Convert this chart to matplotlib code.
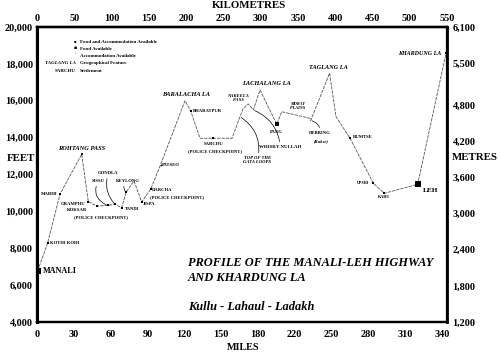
import matplotlib
matplotlib.use("Agg")
import matplotlib.pyplot as plt

# ---------------- data ----------------
route_km = [1, 14.4, 30.9, 60.0, 68.8, 80.1, 94.6, 104.6, 113.6, 119.4, 130.1,
            140.4, 152.5, 165.7, 198.5, 206.2, 218.7, 236.5, 261.6, 272.3, 276.7,
            283.5, 290.2, 299.2, 321.6, 328.3, 366.2, 367.2, 392.5, 401.1, 419.9,
            451.2, 465.9, 510.7, 548.7]
route_ft = [6780, 8300, 10940, 13100, 10525, 10290, 10320, 10385, 10200, 11025, 11650,
            10510, 11200, 12520, 16000, 15445, 13965, 13965, 13965, 15135, 15590,
            15825, 15500, 16585, 14725, 15405, 15050, 14930, 17500, 15135, 13965,
            11525, 10980, 11470, 18575]

# named places: name, km, feet, marker kind
place_names = ["MANALI", "KOTHI KOHI", "MARHI", "ROHTANG PASS", "GRAMPHU", "KOKSAR",
               "SISSU", "GONDLA", "TANDI", "KEYLONG", "JISPA", "DARCHA", "PATSEO",
               "BARALACHA LA", "BHARATPUR", "SARCHU", "TOP OF THE\nGATA LOOPS",
               "NAKEELA\nPASS", "WHISKY NULLAH", "LACHALANG LA", "PANG", "MORAY\nPLAINS",
               "DEBRING", "TAGLANG LA", "RUMTSE", "UPSHI", "KARU", "LEH", "KHARDUNG LA"]
place_km = [1, 14.4, 30.9, 60.0, 68.8, 80.1, 94.6, 104.6, 113.6, 119.4, 140.4, 152.5,
            165.7, 198.5, 206.2, 236.5, 272.3, 283.5, 290.2, 299.2, 321.6, 328.3,
            367.2, 392.5, 419.9, 451.2, 465.9, 510.7, 548.7]
place_ft = [6780, 8300, 10940, 13100, 10525, 10290, 10320, 10385, 10200, 11025, 10510,
            11200, 12520, 16000, 15445, 13965, 15135, 15825, 15500, 16585, 14725, 15405,
            14930, 17500, 13965, 11525, 10980, 11470, 18575]
place_kind = ["big", "small", "small", "small", "small", "small", "small", "small",
              "small", "small", "small", "small", "dot", "none", "small", "small",
              "none", "none", "none", "none", "mid", "none", "none", "none", "small",
              "small", "small", "big", "small"]

km_ticks = [0, 50, 100, 150, 200, 250, 300, 350, 400, 450, 500, 550]
mile_labels = ["0", "30", "60", "90", "120", "150", "180", "220", "250", "280", "310", "340"]
ft_ticks = [4000, 6000, 8000, 10000, 12000, 14000, 16000, 18000, 20000]
m_ticks = [1200, 1800, 2400, 3000, 3600, 4200, 4800, 5500, 6100]

# ---------------- style ----------------
SERIF = "Liberation Serif"
plt.rcParams["font.family"] = [SERIF, "DejaVu Serif"]

W, H = 500, 355
fig = plt.figure(figsize=(W / 100, H / 100), dpi=100)
ax = fig.add_axes([37 / W, 33 / H, 410 / W, 295 / H])
ax.set_xlim(0, 550)
ax.set_ylim(4000, 20000)

for s in ax.spines.values():
    s.set_linewidth(1.6)
    s.set_color("black")
ax.spines["left"].set_linewidth(2.2)

tick_font = dict(fontsize=7.4, fontweight="bold", family=SERIF)
ax.set_yticks(ft_ticks, labels=[f"{v:,}" for v in ft_ticks], **tick_font)
mile_step = 49.4
ax.set_xticks([i * mile_step for i in range(len(mile_labels))], labels=mile_labels, **tick_font)
ax.tick_params(axis="both", length=0, pad=3)
ax.tick_params(axis="x", pad=6)

top = ax.secondary_xaxis("top")
top.set_xticks(km_ticks, labels=[str(v) for v in km_ticks], **tick_font)
top.tick_params(length=0, pad=3)
top.spines["top"].set_linewidth(1.6)

ax2 = ax.twinx()
ax2.set_ylim(1200, 6100)
ax2.set_yticks(m_ticks, labels=[f"{v:,}" for v in m_ticks], **tick_font)
ax2.tick_params(length=0, pad=4)
for s in ax2.spines.values():
    s.set_linewidth(1.6)
ax2.spines["right"].set_linewidth(2.0)
ax2.set_zorder(0)
ax.set_zorder(1)
ax.patch.set_visible(False)

def ftext(x, y, s, **kw):
    fig.text(x / W, 1 - y / H, s, **kw)

ftext(249, 6, "KILOMETRES", ha="center", va="center", fontsize=7.8, fontweight="bold")
ftext(243, 348, "MILES", ha="center", va="center", fontsize=7.3, fontweight="bold")
ftext(21, 158, "FEET", ha="center", va="center", fontsize=7.8, fontweight="bold")
ftext(475, 157, "METRES", ha="center", va="center", fontsize=7.8, fontweight="bold")

ttl = dict(ha="left", va="center", fontsize=8.9, fontweight="bold", style="italic")
ftext(188, 263, "PROFILE OF THE MANALI-LEH HIGHWAY", **ttl)
ftext(188, 278, "AND KHARDUNG LA", **ttl)
ftext(188, 307, "Kullu - Lahaul - Ladakh", **ttl)

# legend
lg = dict(fontsize=3.6, fontweight="bold", va="center")
ftext(75, 42, "\u25a0", ha="center", fontsize=3.0)
ftext(80, 42, "Food and Accommodation Available", ha="left", **lg)
ftext(75, 49, "\u25a0", ha="center", fontsize=3.8)
ftext(80, 49, "Food Available", ha="left", **lg)
ftext(75, 56, "\u00b7", ha="center", fontsize=4)
ftext(80, 56, "Accommodation Available", ha="left", **lg)
ftext(76, 63, "TAGLANG LA", ha="right", fontsize=3.6, fontweight="bold", style="italic", va="center")
ftext(80, 63, "Geographical Feature", ha="left", **lg)
ftext(76, 70.5, "SARCHU", ha="right", **lg)
ftext(80, 70.5, "Settlement", ha="left", **lg)

# route line
ax.plot(route_km, route_ft, color="#555555", lw=0.6, ls=(0, (4, 1.2)), zorder=2)

msize = {"big": 4.2, "mid": 3.2, "small": 1.8, "dot": 1.2, "none": 0}
for n, x, y, k in zip(place_names, place_km, place_ft, place_kind):
    if k != "none":
        ax.plot([x], [y], marker="s" if k != "dot" else "o", ms=msize[k],
                color="black", mew=0, zorder=3)

# label offsets (pixels), alignment, style
labels = {
    "MANALI": (5, 0, "left", "normal", 5.9, None),
    "KOTHI KOHI": (2.5, 0, "left", "normal", 3.3, None),
    "MARHI": (-3, 0, "right", "normal", 3.4, None),
    "ROHTANG PASS": (0, 6, "center", "italic", 4.6, None),
    "GRAMPHU": (-3, -2.5, "right", "normal", 3.3, None),
    "KOKSAR": (-20, -3.5, "center", "normal", 3.3, None),
    "SISSU": (-9.5, 24.5, "center", "normal", 3.3, 0.5),
    "GONDLA": (-6.5, 31, "center", "normal", 3.3, 0.3),
    "TANDI": (3.5, -1.5, "left", "normal", 3.3, None),
    "KEYLONG": (1.5, 11.5, "center", "normal", 3.3, 0.5),
    "JISPA": (1.5, -2, "left", "normal", 3.3, None),
    "DARCHA": (1.5, -1, "left", "normal", 3.3, None),
    "PATSEO": (1.5, 0, "left", "normal", 3.3, None),
    "BARALACHA LA": (1, 6.5, "center", "italic", 4.6, None),
    "BHARATPUR": (2.5, 0, "left", "normal", 3.3, None),
    "SARCHU": (0, -6, "center", "normal", 3.3, None),
    "TOP OF THE\nGATA LOOPS": (17.5, -43.5, "center", "italic", 3.3, 0.35),
    "NAKEELA\nPASS": (-10, 6, "center", "italic", 3.3, None),
    "WHISKY NULLAH": (27, -37, "center", "normal", 3.5, 0.3),
    "LACHALANG LA": (6, 6, "center", "italic", 4.6, None),
    "PANG": (0, -8, "center", "normal", 3.3, None),
    "MORAY\nPLAINS": (16, 5.5, "center", "italic", 3.1, None),
    "DEBRING": (9.5, -12.5, "center", "normal", 3.3, 0.4),
    "TAGLANG LA": (-1, 5.5, "center", "italic", 4.5, None),
    "RUMTSE": (3, 1, "left", "normal", 3.3, None),
    "UPSHI": (-4, 0.5, "right", "normal", 3.0, None),
    "KARU": (0, -4, "center", "normal", 3.1, None),
    "LEH": (5, -6, "left", "normal", 5.2, None),
    "KHARDUNG LA": (-5, 0, "right", "italic", 4.3, None),
}
for n, x, y in zip(place_names, place_km, place_ft):
    dx, dy, ha, st, fs, rad = labels[n]
    kw = dict(xy=(x, y), xytext=(dx, dy), textcoords="offset pixels", ha=ha,
              va="center", fontsize=fs, fontweight="bold", style=st,
              linespacing=1.0, zorder=4)
    if rad is not None:
        kw["arrowprops"] = dict(arrowstyle="-", lw=0.5, color="black",
                                connectionstyle=f"arc3,rad={rad}", shrinkA=0.5, shrinkB=1)
    ax.annotate(n, **kw)

# sub-labels
extra = [("KOKSAR", "(POLICE CHECKPOINT)", 4, -11.5, "center"),
         ("DARCHA", "(POLICE CHECKPOINT)", -0.5, -8, "left"),
         ("SARCHU", "(POLICE CHECKPOINT)", 1.5, -13, "center"),
         ("DEBRING", "(Rukse)", 10.5, -20.5, "center")]
for n, s, dx, dy, ha in extra:
    i = place_names.index(n)
    ax.annotate(s, xy=(place_km[i], place_ft[i]), xytext=(dx, dy), textcoords="offset pixels",
                ha=ha, va="center", fontsize=3.3, fontweight="bold",
                style="italic" if s == "(Rukse)" else "normal", zorder=4)

fig.savefig("out.png", dpi=100)
